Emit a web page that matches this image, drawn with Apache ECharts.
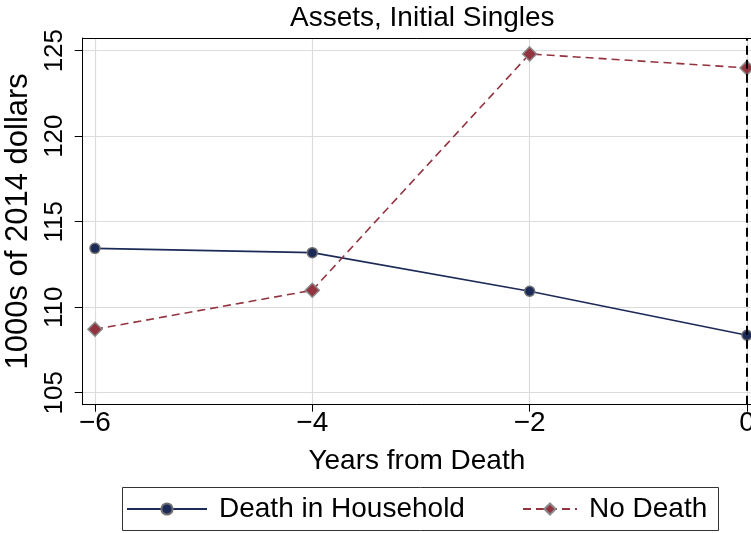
<!DOCTYPE html>
<html>
<head>
<meta charset="utf-8">
<script src="https://cdn.jsdelivr.net/npm/echarts@6/dist/echarts.min.js"></script>
<style>
  html, body { margin: 0; padding: 0; background: #fff; }
  #chart { width: 751px; height: 533px; }
</style>
</head>
<body>
<div id="chart"></div>
<script>
// Years relative to the death event
const years = [-6, -4, -2, 0];
// Mean assets, thousands of 2014 dollars
const deathInHousehold = [113.44, 113.19, 110.93, 108.36];
const noDeath = [108.71, 110.99, 124.81, 123.99];
// Axis ticks
const yTicks = [105, 110, 115, 120, 125];
const xTicks = [-6, -4, -2, 0];

const FONT = '"Liberation Sans", Arial, sans-serif';
const minus = v => String(v).replace('-', '\u2212');

const NAVY = '#1c2a58';
const CRANBERRY = '#93333f';
const X_MIN = -6.113, X_MAX = 0.037;

const chart = echarts.init(document.getElementById('chart'), null, { renderer: 'canvas' });

chart.setOption({
  animation: false,
  backgroundColor: '#fff',
  textStyle: { fontFamily: FONT },
  graphic: [
    {
      type: 'text',
      left: 290,
      top: 4,
      style: { text: 'Assets, Initial Singles', fontSize: 28, fontFamily: FONT, fill: '#000' }
    },
    {
      // frame round the legend
      type: 'rect',
      shape: { x: 122.5, y: 487.5, width: 596, height: 43 },
      style: { fill: null, stroke: '#333', lineWidth: 1 },
      silent: true,
      z: 10
    }
  ],
  grid: { left: 82.7, top: 38, right: 0, bottom: 128.3, outerBoundsMode: 'none', containLabel: false },
  legend: [
    {
      left: 126, top: 495, padding: 0,
      itemWidth: 80, itemHeight: 14,
      textStyle: { fontSize: 28, fontFamily: FONT, color: '#000', padding: [0, 0, 0, 7] },
      data: ['Death in Household']
    },
    {
      left: 522, top: 495, padding: 0,
      itemWidth: 54, itemHeight: 14,
      textStyle: { fontSize: 28, fontFamily: FONT, color: '#000', padding: [0, 0, 0, 7] },
      data: ['No Death']
    }
  ],
  xAxis: [
    {
      type: 'value',
      min: X_MIN, max: X_MAX,
      name: 'Years from Death',
      nameLocation: 'middle', nameGap: 43,
      nameTextStyle: { fontSize: 28, color: '#000', fontFamily: FONT },
      axisLine: { show: true, onZero: false, lineStyle: { color: '#000', width: 1 } },
      axisTick: { show: true, customValues: xTicks, length: 7, lineStyle: { color: '#000' } },
      axisLabel: { customValues: xTicks, formatter: minus, fontSize: 28, color: '#000', margin: 5, fontFamily: FONT },
      splitLine: { show: true, lineStyle: { color: '#dcdcdc', width: 1.2 } }
    },
    {
      // top edge of the plot region
      type: 'value', position: 'top',
      min: X_MIN, max: X_MAX,
      axisLine: { show: true, onZero: false, lineStyle: { color: '#000', width: 1 } },
      axisTick: { show: false }, axisLabel: { show: false }, splitLine: { show: false }
    }
  ],
  yAxis: {
    type: 'value',
    min: 104.3, max: 125.74,
    name: '1000s of 2014 dollars',
    nameLocation: 'middle', nameGap: 34, nameRotate: 90,
    nameTextStyle: { fontSize: 31, color: '#000', fontFamily: FONT },
    axisLine: { show: true, onZero: false, lineStyle: { color: '#000', width: 1 } },
    axisTick: { show: true, customValues: yTicks, length: 8, lineStyle: { color: '#000' } },
    axisLabel: { customValues: yTicks, rotate: 90, fontSize: 26, color: '#000', margin: 15, fontFamily: FONT },
    splitLine: { show: true, lineStyle: { color: '#dcdcdc', width: 1.2 } }
  },
  series: [
    {
      name: 'Death in Household',
      type: 'line',
      data: years.map((x, i) => [x, deathInHousehold[i]]),
      symbol: 'circle', symbolSize: 10,
      lineStyle: { color: NAVY, width: 1.6 },
      itemStyle: { color: NAVY, borderColor: '#6f6f6f', borderWidth: 1.5 },
      z: 3,
      markLine: {
        silent: true, symbol: 'none', label: { show: false },
        lineStyle: { color: '#000', type: [9, 5], width: 2 },
        data: [{ xAxis: 0 }]
      }
    },
    {
      name: 'No Death',
      type: 'line',
      data: years.map((x, i) => [x, noDeath[i]]),
      symbol: 'diamond', symbolSize: 14,
      lineStyle: { color: CRANBERRY, width: 1.6, type: [8, 5] },
      itemStyle: { color: CRANBERRY, borderColor: '#8a8a8a', borderWidth: 1.5 },
      z: 3
    }
  ]
});
</script>
</body>
</html>
